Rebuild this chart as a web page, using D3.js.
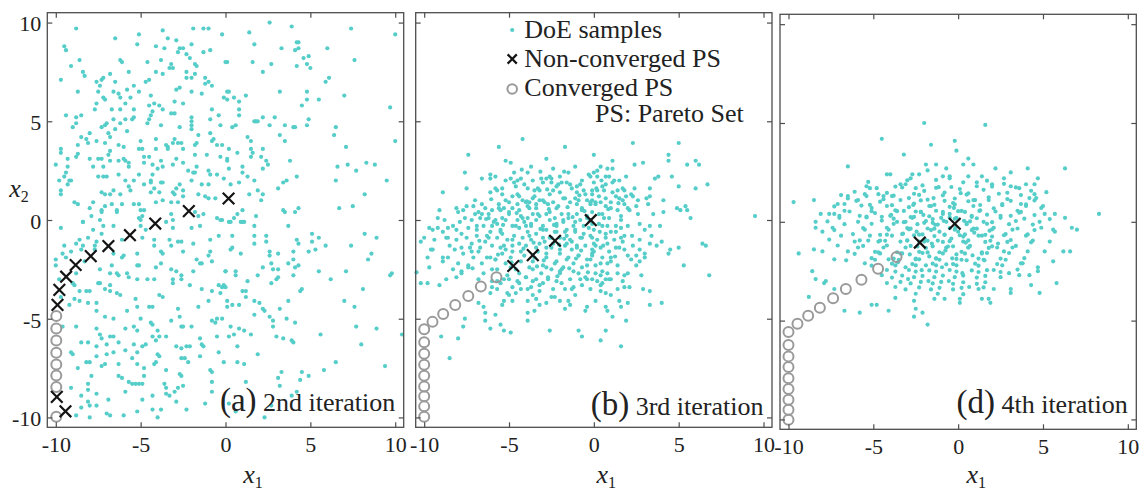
<!DOCTYPE html>
<html><head><meta charset="utf-8">
<script src="https://cdn.jsdelivr.net/npm/d3@7"></script>
<style>html,body{margin:0;padding:0;background:#fff;} svg{display:block;} text{font-family:"Liberation Serif","Times New Roman",serif;}</style>
</head><body><svg id="c" width="1146" height="493"></svg>
<script>
// ---------------- data ----------------
const tickValues = [-10, -5, 0, 5, 10];
const tickLabels = ["-10", "-5", "0", "5", "10"];
const panelTags = ["(a)", "(b)", "(d)"];
const panelTitles = ["2nd iteration", "3rd iteration", "4th iteration"];
const legendLabels = ["DoE samples", "Non-converged PS", "Converged PS"];
const legendNote = "PS: Pareto Set";

// DoE samples, flat [x1, x2, x1, x2, ...]
const doeA = [
-8.8,9.7,-5.1,9.4,-3.7,9.6,-1.9,9.7,-1.3,9.7,-1.0,9.7,-0.2,9.4,-6.5,9.2,-3.4,9.2,-2.9,9.1,-5.2,8.9,-4.1,8.8,-3.6,8.7,-2.7,8.7,-2.5,8.7,-2.0,8.9,-9.5,8.8,-9.4,8.6,-1.3,8.5,-0.9,8.6,-2.8,8.5,-2.3,8.4,-8.6,8.1,-6.2,8.1,-6.1,8.0,-4.6,8.0,-3.8,8.1,-2.1,8.2,-1.8,7.9,-1.7,7.8,0.0,8.0,-9.1,7.8,-3.2,7.9,-3.3,7.7,-3.1,7.7,-8.4,7.5,-8.3,7.3,-6.8,7.4,-5.7,7.5,-4.1,7.5,-3.7,7.4,-2.3,7.5,-2.3,7.2,-2.0,7.2,-1.8,7.4,-9.7,7.1,-7.6,7.0,-7.3,7.1,-7.2,7.2,-6.5,7.0,-4.7,7.0,-4.5,7.1,-1.2,7.2,-1.2,6.9,-1.0,7.0,-0.8,6.8,-7.4,6.8,-8.7,6.5,-7.5,6.5,-6.6,6.5,-6.3,6.4,-5.8,6.6,-5.4,6.8,-5.1,6.5,-2.9,6.6,-2.7,6.7,-2.0,6.5,-1.4,6.4,0.1,6.5,-7.2,6.2,-7.1,6.1,-6.2,6.2,-5.6,6.2,-4.4,6.3,-3.0,6.0,-2.5,5.9,-7.6,5.9,-5.9,5.9,-4.5,5.8,-4.2,5.9,-3.9,5.8,-0.1,6.2,-7.7,5.6,-6.7,5.6,-6.2,5.6,-5.4,5.6,-3.7,5.6,-3.2,5.4,-3.0,5.4,-0.8,5.6,-9.4,5.3,-8.8,5.2,-8.5,5.3,-4.3,5.5,-4.4,5.3,-4.5,5.1,-4.6,4.9,-8.8,4.9,-6.6,5.1,-5.9,5.1,-5.5,5.1,-5.4,5.2,-2.0,5.2,-0.4,5.3,-9.0,4.7,-7.1,4.8,-7.3,4.7,-7.0,4.9,-6.2,4.9,-3.8,4.8,-2.7,4.7,-2.0,5.0,-2.0,4.8,-2.0,4.6,-0.9,5.1,-0.3,4.8,-6.5,4.6,-5.8,4.5,-8.0,4.4,-6.9,4.4,-8.5,4.2,-8.2,4.1,-6.8,4.2,-4.1,4.1,-3.0,4.1,-3.1,3.9,-1.6,4.3,-0.9,4.4,-0.8,4.0,-0.7,4.1,-8.7,3.8,-8.1,3.9,-7.6,4.0,-7.1,3.9,-6.3,3.8,-6.0,3.7,-5.0,4.0,-3.5,3.8,-3.4,3.6,-2.8,3.9,-2.6,3.9,-1.7,3.9,-1.8,3.8,-0.5,3.8,-0.2,3.8,-9.7,3.6,-9.7,3.4,-6.8,3.5,-6.9,3.3,-5.1,3.6,-4.9,3.6,-4.1,3.6,-3.4,3.7,-2.5,3.6,-1.8,3.3,-1.1,3.3,-0.3,3.2,-10.0,2.8,-9.3,3.1,-8.8,3.2,-8.7,3.35,-8.0,3.1,-7.5,3.1,-7.3,3.1,-6.8,3.0,-6.3,3.0,-6.0,3.1,-5.9,3.0,-5.7,2.9,-4.8,3.2,-4.5,3.2,-4.8,2.9,-4.3,2.8,-3.8,3.0,-2.9,3.1,-3.1,2.8,-2.5,2.9,0.1,3.1,-9.3,2.7,-7.8,2.7,-7.2,2.7,-5.7,2.7,-4.0,2.6,-3.7,2.7,-2.2,2.5,-1.7,2.7,-1.0,2.5,-9.4,2.4,-9.5,2.2,-9.2,2.0,-9.1,2.0,-9.3,1.8,-9.8,2.0,-7.5,2.2,-7.2,2.2,-7.0,2.2,-6.3,2.3,-5.1,2.3,-4.3,2.3,-1.9,2.4,-1.8,2.4,-0.9,2.3,-0.5,2.3,-0.1,2.1,-5.9,2.0,-5.7,1.7,-5.4,2.0,-4.8,1.8,-4.4,2.0,-4.4,1.9,-4.2,1.6,-3.8,1.9,-3.7,1.9,-2.7,1.8,-2.0,2.0,-1.4,1.8,-1.0,1.8,-9.7,1.5,-9.7,1.3,-7.3,1.4,-7.1,1.3,-6.8,1.3,-6.6,1.5,-6.2,1.3,-5.6,1.5,-4.4,1.4,-3.9,1.4,-3.1,1.4,-3.0,1.3,-2.9,1.6,-2.5,1.5,-2.5,1.2,-1.6,1.3,-1.2,1.2,-1.0,1.1,-0.6,1.1,-8.9,0.9,-8.7,0.8,-7.1,0.7,-6.7,0.8,-6.1,0.8,-5.4,0.8,-5.1,0.8,-4.1,0.9,-3.7,1.0,-3.2,0.9,-2.8,0.9,-8.0,0.6,-7.8,0.9,-7.3,0.5,-7.3,0.4,-6.4,0.5,-6.4,0.4,-5.0,0.5,-4.8,0.5,-4.9,0.2,-5.1,0.1,-3.2,0.3,-1.8,0.4,-1.6,0.2,-1.3,0.3,-7.9,0.2,-8.4,-0.1,-7.4,0.0,-5.0,0.0,-3.1,0.0,-0.5,0.1,-0.3,0.0,
2.6,10.0,3.9,9.8,7.4,9.7,1.4,9.5,10.0,9.4,1.7,8.9,4.2,9.0,4.3,9.0,3.3,8.7,4.3,8.7,4.1,8.6,6.0,8.7,4.6,8.2,4.9,8.3,7.6,8.1,0.1,8.0,1.6,8.0,2.7,7.9,4.8,7.9,4.2,7.8,5.0,7.7,2.2,7.5,6.1,7.2,5.9,7.0,0.2,6.5,3.2,6.5,4.8,6.5,7.0,6.3,0.5,6.2,0.1,6.1,0.8,6.0,1.2,6.3,4.8,6.1,5.5,6.1,4.5,5.8,9.7,5.7,0.8,5.6,0.8,5.3,1.7,5.0,1.8,5.0,1.9,5.0,2.2,5.2,2.9,5.2,4.9,5.1,0.6,4.8,0.4,4.7,2.6,4.8,3.5,4.8,4.0,4.7,4.1,4.7,4.8,4.8,6.5,4.7,6.4,4.3,1.3,4.2,1.5,4.0,3.2,4.3,3.5,4.0,10.0,4.0,7.1,3.7,0.2,3.6,0.7,3.4,1.5,3.6,1.6,3.4,2.2,3.6,1.5,3.2,2.1,3.2,0.1,3.0,2.4,3.0,2.5,2.8,3.8,3.0,1.0,2.7,2.2,2.6,0.2,2.6,6.6,2.7,7.2,2.8,8.3,2.9,8.8,2.8,7.7,2.5,1.0,2.4,1.3,2.2,4.2,2.2,1.7,2.0,3.6,2.0,3.4,1.9,3.1,1.6,6.5,2.0,9.5,2.0,0.3,1.8,0.8,1.9,1.9,1.5,1.4,1.3,2.2,1.3,2.1,1.0,8.2,1.3,6.7,0.6,7.5,0.7,1.0,0.5,0.7,0.3,0.5,0.1,1.0,-0.1,1.8,0.2,3.4,0.5,3.5,0.4,4.1,0.4,4.3,0.6,0.2,-0.1,
-9.7,-0.4,-8.4,-0.1,-7.2,-0.3,-6.6,-0.3,-5.0,-0.3,-4.7,-0.5,-3.5,-0.1,-3.1,-0.4,-2.0,-0.4,-1.5,-0.3,-0.4,-0.8,-0.2,0.0,-7.8,-0.5,-7.3,-0.7,-8.1,-0.9,-8.6,-1.0,-8.8,-1.2,-7.6,-1.1,-9.5,-1.3,-8.4,-1.3,-7.7,-1.3,-6.1,-1.0,-4.9,-0.9,-4.2,-1.0,-3.3,-1.0,-2.8,-1.1,-2.6,-1.1,-1.9,-1.2,-0.9,-1.0,-9.6,-1.7,-9.1,-1.6,-8.5,-1.5,-7.7,-1.5,-6.6,-1.7,-5.2,-1.7,-4.2,-1.3,-3.8,-1.6,-3.7,-1.7,-3.2,-1.3,-2.5,-1.6,-0.9,-1.6,-1.0,-1.8,-10.0,-2.0,-9.4,-1.9,-8.3,-2.1,-7.4,-2.5,-6.7,-2.3,-6.1,-1.9,-6.0,-1.8,-5.2,-2.3,-5.1,-2.3,-4.1,-2.4,-3.8,-2.2,-3.2,-2.5,-2.9,-2.6,-2.6,-2.8,-1.9,-2.6,-1.7,-2.0,-1.5,-2.2,-1.4,-2.2,-0.8,-2.1,0.0,-2.6,-10.0,-2.3,-9.8,-3.0,-8.9,-3.3,-8.8,-2.7,-9.0,-3.2,-8.6,-3.6,-8.2,-3.6,-8.0,-3.6,-7.5,-3.2,-7.4,-3.2,-6.8,-3.3,-6.8,-2.7,-6.4,-2.7,-6.3,-2.8,-5.8,-2.7,-5.7,-2.9,-5.2,-3.0,-4.6,-3.0,-4.2,-3.0,-3.1,-3.0,-3.1,-3.2,-2.6,-3.0,-2.1,-3.3,-1.4,-3.5,-0.8,-3.6,-0.4,-3.3,-0.1,-3.3,-8.9,-4.0,-8.6,-4.1,-8.1,-4.2,-7.6,-4.2,-7.1,-3.5,-6.8,-3.6,-6.4,-3.7,-6.2,-3.8,-5.3,-4.0,-5.8,-4.6,-5.2,-4.4,-4.5,-4.4,-4.3,-4.4,-3.9,-3.8,-3.7,-3.9,-2.8,-4.5,-1.6,-4.4,-1.0,-4.1,-0.3,-3.7,-0.2,-3.4,-9.7,-3.9,-9.2,-4.3,-7.6,-4.6,-7.1,-4.9,-6.6,-5.0,-5.0,-5.0,-4.4,-5.2,-4.3,-5.3,-4.0,-5.6,-3.2,-5.1,-2.7,-4.9,-2.6,-5.4,-2.5,-5.4,-2.0,-5.4,-0.8,-5.1,-0.6,-5.2,-0.5,-5.0,-0.2,-5.0,-9.6,-5.4,-8.8,-5.4,-7.6,-5.5,-7.4,-5.8,-7.3,-6.0,-6.8,-5.9,-6.6,-5.9,-5.9,-5.5,-5.4,-5.4,-5.2,-5.6,-4.3,-5.9,-3.9,-5.9,-3.5,-5.9,-8.5,-6.2,-8.1,-6.2,-7.6,-6.4,-7.0,-6.3,-6.3,-6.2,-5.4,-6.3,-4.9,-6.4,-4.7,-6.3,-4.1,-6.1,-2.9,-6.4,-2.6,-6.5,-2.3,-6.4,-2.1,-6.4,-1.5,-6.0,-1.4,-6.3,-1.3,-6.4,-0.5,-5.9,-0.4,-6.7,-9.1,-6.7,-9.0,-6.8,-7.6,-6.9,-7.0,-6.8,-6.6,-6.7,-5.9,-6.6,-5.2,-6.7,-4.0,-6.8,-3.9,-6.9,-2.6,-7.0,-2.4,-7.0,-1.5,-6.9,-0.1,-7.2,-8.7,-7.5,-8.2,-7.2,-8.0,-7.2,-7.3,-7.4,-7.1,-7.3,-6.3,-7.3,-5.5,-7.0,-5.2,-7.3,-4.8,-7.5,-4.2,-7.3,-4.1,-7.2,-3.5,-7.6,-2.7,-7.8,-2.6,-7.9,-2.2,-7.2,-0.9,-7.6,-0.8,-7.7,-7.9,-7.9,-6.3,-7.9,-6.1,-8.0,-5.7,-8.2,-5.5,-8.3,-5.3,-8.3,-5.1,-8.3,-4.9,-8.3,-4.8,-7.9,-3.6,-8.3,-3.5,-8.5,-3.0,-8.7,-2.8,-8.5,-2.5,-8.4,-0.8,-8.2,-9.1,-8.5,-8.1,-8.3,-8.1,-8.6,-8.5,-8.9,-7.6,-8.8,-6.9,-9.1,-5.9,-8.7,-4.9,-9.1,-4.3,-8.9,-3.5,-8.8,-3.3,-8.9,-1.2,-9.3,-0.8,-8.7,-8.1,-9.2,-8.0,-9.4,-7.6,-9.4,-8.5,-9.5,-8.8,-9.9,-8.0,-10.0,-7.0,-9.8,-6.8,-9.9,-6.0,-9.9,-5.2,-9.7,-4.3,-9.6,-3.8,-9.6,-4.0,-10.0,-2.9,-9.2,-2.3,-9.6,
0.3,-0.1,0.9,-0.1,1.1,-0.1,1.7,-0.3,3.7,-0.3,0.4,-0.8,1.7,-0.8,2.4,-0.8,2.4,-1.1,1.7,-1.2,5.1,-0.7,5.5,-0.9,4.2,-1.0,4.3,-1.2,5.1,-1.1,4.9,-1.6,5.3,-1.5,5.9,-1.3,7.4,-1.3,8.2,-0.7,8.9,-0.9,0.3,-1.5,0.4,-1.4,0.9,-1.7,2.6,-1.6,2.6,-1.8,3.1,-1.7,4.0,-1.6,4.0,-2.0,8.6,-1.7,8.4,-2.0,0.0,-2.6,0.6,-2.6,0.6,-2.8,1.9,-2.8,2.2,-2.4,2.7,-2.2,2.8,-2.5,3.1,-2.5,3.0,-3.0,3.1,-2.9,2.7,-3.2,3.7,-2.2,4.3,-2.3,4.1,-2.4,4.0,-2.8,5.5,-2.6,6.2,-3.0,7.1,-2.6,9.7,-2.8,9.8,-2.7,1.3,-3.1,4.5,-3.5,4.4,-3.6,8.1,-3.5,1.0,-3.6,1.2,-3.6,1.2,-3.9,0.0,-3.4,1.7,-4.1,2.0,-4.2,0.1,-4.1,0.1,-4.4,0.4,-4.3,0.8,-4.3,2.2,-4.5,2.3,-4.6,3.2,-4.5,3.7,-4.1,2.6,-4.9,3.6,-5.0,7.0,-4.1,7.6,-4.4,1.7,-4.8,2.8,-5.1,2.8,-5.4,4.1,-5.2,0.3,-5.4,0.2,-5.9,0.8,-5.5,1.1,-5.6,1.5,-5.8,0.5,-5.8,3.0,-5.9,3.4,-6.0,3.9,-6.1,4.0,-6.2,5.6,-5.8,7.7,-5.4,8.9,-5.5,10.4,-5.8,0.7,-6.4,1.9,-6.8,8.0,-6.3,0.7,-7.2,1.1,-7.3,5.8,-7.6,6.5,-7.2,9.4,-7.4,3.3,-7.7,3.1,-8.0,4.5,-7.7,4.9,-7.9,4.4,-8.1,1.2,-8.2,3.2,-8.4,4.2,-8.7,3.9,-8.9,0.2,-9.3,0.6,-9.7,2.3,-10.0,2.7,-9.4
];

const doeB = [
-4.2,4.1,-5.6,3.7,-7.4,3.3,-1.7,3.7,-2.8,3.1,-5.2,3.0,-4.9,2.9,-3.7,2.7,-1.1,2.7,-7.6,2.4,-6.1,2.3,-5.8,2.2,-6.1,2.1,-6.6,2.1,-5.2,2.0,-4.9,2.1,-4.5,2.0,-4.3,2.1,-3.9,2.4,-3.1,2.1,-3.0,1.9,-2.8,2.1,-2.5,2.1,-2.0,2.2,-1.6,1.9,-1.4,1.8,-2.5,1.9,-2.2,1.7,-2.1,1.8,-3.3,1.6,-3.2,1.5,-3.5,1.5,-3.9,1.6,-4.7,1.9,-4.6,1.7,-5.8,1.6,-6.1,1.4,-5.7,1.5,-5.4,1.3,-7.5,1.6,-8.9,1.4,-1.0,1.4,-0.8,1.8,-0.3,2.3,-0.2,2.2,-0.6,1.5,-0.1,1.5,-1.0,1.7,
-6.6,0.8,-5.6,0.8,-5.0,0.9,-4.8,1.2,-4.4,1.2,-4.2,1.0,-4.0,0.9,-3.8,0.9,-3.6,1.1,-3.4,0.8,-3.4,0.6,-3.0,1.0,-2.7,0.8,-2.4,0.9,-2.2,0.6,-1.7,1.1,-1.4,0.9,-1.1,1.1,-0.9,1.0,-0.4,1.0,-0.2,0.8,-0.7,0.6,-7.1,0.7,-6.8,0.4,-7.7,0.5,-8.1,0.6,-9.1,0.5,-5.3,0.6,-4.8,0.6,-4.5,0.8,-3.8,0.6,-2.6,1.3,-2.0,1.4,-5.5,0.5,-6.0,0.5,-6.2,0.3,-6.4,0.6,
-9.2,-0.4,-8.6,-0.4,-8.3,-0.3,-7.9,-0.1,-7.6,0.1,-7.2,0.0,-7.0,0.3,-6.7,0.1,-6.5,-0.3,-6.2,0.1,-6.0,-0.3,-5.8,0.0,-5.7,-0.2,-5.4,0.1,-5.2,0.0,-5.0,0.3,-4.8,-0.3,-4.5,0.0,-4.3,0.2,-4.1,-0.1,-3.9,0.1,-3.7,-0.3,-3.6,0.3,-3.4,0.0,-3.2,0.2,-3.0,-0.3,-2.8,0.3,-2.6,0.0,-2.3,0.1,-2.2,-0.3,-1.9,0.3,-1.8,-0.1,-1.5,0.1,-1.2,-0.3,-1.0,0.3,-0.8,0.0,-0.6,-0.3,-0.4,0.1,-0.1,-0.2,-5.5,-0.5,-4.4,-0.4,-2.8,-0.5,-1.6,-0.5,-7.4,-0.4,-6.9,-0.3,-8.8,0.0,-9.5,-0.5,-8.1,-0.5,
-10.2,-1.1,-9.6,-1.5,-9.4,-1.0,-8.7,-0.9,-8.5,-1.3,-8.1,-1.0,-7.8,-1.4,-7.5,-0.9,-7.2,-1.2,-6.9,-0.8,-6.7,-1.4,-6.4,-1.1,-6.2,-0.9,-6.0,-1.3,-5.7,-0.9,-5.5,-1.4,-5.4,-0.7,-5.1,-1.0,-4.8,-1.3,-4.7,-0.8,-4.4,-1.2,-4.2,-0.9,-4.0,-1.3,-3.7,-1.0,-3.4,-0.7,-3.2,-1.2,-3.0,-0.9,-2.8,-1.4,-2.6,-0.9,-2.4,-1.2,-2.2,-0.6,-2.0,-0.9,-1.7,-1.3,-1.6,-0.8,-1.3,-1.1,-1.1,-0.6,-1.0,-1.4,-0.7,-0.9,-0.5,-1.3,-0.2,-0.8,0.0,-1.2,-8.9,-0.6,-7.8,-0.7,-6.1,-0.6,-3.9,-0.6,-2.5,-1.4,-1.3,-1.5,-5.2,-1.5,-7.3,-1.4,-10.0,-0.9,
-9.8,-1.9,-9.7,-2.4,-8.9,-2.1,-8.6,-1.9,-8.0,-2.2,-7.7,-1.7,-7.4,-2.4,-7.1,-1.9,-6.8,-1.6,-6.6,-2.2,-6.3,-1.9,-6.0,-2.5,-5.8,-2.0,-5.4,-1.7,-5.2,-2.2,-4.9,-1.9,-4.6,-2.5,-4.3,-2.1,-4.1,-1.8,-3.8,-2.4,-3.5,-1.9,-3.3,-1.6,-3.0,-2.3,-2.8,-1.9,-2.5,-2.5,-2.2,-2.1,-2.0,-1.7,-1.8,-2.4,-1.5,-1.9,-1.2,-2.2,-0.9,-1.8,-0.7,-2.4,-0.4,-2.0,-0.1,-1.7,-8.3,-2.5,-4.8,-1.6,-1.9,-2.5,-3.6,-2.5,-5.7,-2.5,
-10.45,-2.65,-10.2,-3.2,-9.8,-3.2,-9.1,-3.3,-8.7,-3.0,-8.1,-2.9,-7.8,-2.7,-6.1,-3.7,-5.7,-3.5,-5.5,-3.2,-5.3,-3.0,-5.0,-3.0,-4.8,-3.4,-4.5,-3.1,-4.3,-3.5,-4.0,-2.9,-3.7,-3.4,-3.4,-3.0,-3.2,-3.6,-3.0,-3.2,-2.7,-2.9,-2.4,-3.5,-2.2,-3.1,-2.0,-2.7,-1.7,-3.5,-1.4,-3.0,-1.2,-3.4,-0.9,-2.7,-0.7,-3.3,-0.4,-3.0,-0.2,-3.5,-3.6,-3.1,-5.1,-3.7,-4.4,-2.7,-6.0,-3.1,-2.5,-3.9,-1.1,-3.8,
-6.8,-4.2,-6.5,-4.4,-6.4,-4.7,-5.8,-4.8,-5.4,-4.3,-5.0,-3.8,-4.8,-4.1,-5.5,-5.3,-4.9,-5.7,-5.3,-5.6,-6.1,-5.5,-6.4,-5.1,-7.6,-5.0,-7.7,-5.4,-8.0,-6.0,-9.0,-5.9,-8.5,-7.0,-3.9,-4.7,-3.5,-4.6,-3.9,-5.1,-3.9,-4.1,-3.2,-4.3,-2.6,-5.6,-2.8,-4.2,-2.0,-4.1,-1.7,-4.5,-1.4,-4.3,-0.9,-5.6,-0.7,-5.9,-0.5,-4.6,-0.4,-4.4,-3.6,-3.8,
-5.9,-0.1,-5.6,0.6,-5.3,-1.3,-5.0,0.4,-4.9,-2.4,-4.6,-0.3,-4.5,1.3,-4.3,-1.6,-4.2,0.1,-4.0,-2.9,-3.9,0.7,-3.8,-0.8,-3.6,-2.1,-3.5,1.2,-3.4,-1.4,-3.3,0.3,-3.1,-2.7,-3.0,-0.5,-2.9,0.9,-2.8,-1.7,-2.7,-3.0,-2.6,0.4,-2.5,-0.9,-2.4,1.5,-2.3,-2.2,-2.2,-0.2,-2.1,0.7,-2.0,-1.5,-1.9,-3.2,-1.8,1.1,-1.7,-0.6,-1.6,-2.0,-1.5,0.3,-1.4,-1.0,-1.3,1.6,-1.2,-2.6,-1.1,-0.1,-1.0,0.8,-0.9,-1.8,-0.8,-3.0,-0.7,0.5,-0.6,-0.7,-0.5,1.3,-0.4,-2.3,-0.3,-0.4,-0.2,0.9,-0.1,-1.5,-5.8,-2.0,-5.5,-0.6,-5.2,1.0,-4.8,-1.0,-4.4,-3.2,-4.1,1.8,-3.7,-0.2,-3.2,-3.3,-2.9,-1.1,-2.6,2.2,-2.3,-0.6,-1.9,1.9,-1.6,-1.2,-1.3,-3.5,-1.0,-1.3,-0.7,2.0,-0.5,-2.9,-6.3,-0.8,-6.6,0.3,-6.9,-0.5,-7.2,-1.6,-7.5,0.7,-6.1,-1.9,-6.5,-2.7,-7.0,1.0,-5.7,-3.1,-5.4,1.6,-5.1,-2.8,-4.7,2.4,-4.4,0.5,-4.0,-0.3,-3.6,2.0,-3.2,1.0,-2.8,-2.4,-2.4,2.6,-2.0,-2.6,-1.8,0.0,-1.5,2.4,-1.1,-0.5,-0.8,-0.9,-0.4,0.2,-0.2,-2.0,-3.9,-3.5,-4.6,-3.7,-3.4,-4.0,-2.3,-3.9,-1.5,-4.1,-6.0,-3.4,-5.3,-4.1,-8.2,-1.5,-8.6,-0.9,-8.9,-1.9,-9.2,0.1,-9.7,-0.4,-7.8,-2.6,-8.0,0.4,-7.4,-2.3,-6.8,-3.0,-9.5,-1.5,
-3.15,-0.45,-2.65,0.55,-2.05,-1.25,-1.55,0.65,-1.05,-1.95,-0.55,0.45,-4.15,-1.45,-3.55,-1.15,-2.95,-2.05,-2.35,-0.25,-1.75,-0.95,-1.25,0.15,-0.75,-1.55,-0.25,-0.05,-4.55,0.35,-3.95,0.95,-3.35,-2.35,-2.75,1.55,-2.15,-2.85,-1.45,-2.45,-0.85,1.25,-0.35,-2.65,-5.35,-0.25,-4.85,-2.15,-5.65,-1.75,-6.35,0.05,-6.75,-1.05,-7.15,-2.45,-6.05,1.05,-4.25,2.55,-3.15,2.45,-1.75,2.45,0.35,-0.6,0.85,0.55,1.25,-1.85,0.55,-1.3,0.15,1.6,1.45,0.85,2.25,-0.8,0.45,2.0,
2.3,3.9,5.0,3.9,0.0,3.3,4.4,3.3,4.4,3.0,1.1,3.0,2.4,2.8,2.9,2.9,5.5,2.8,6.0,3.0,6.2,2.8,0.4,2.7,1.1,2.6,0.0,2.4,0.2,2.2,0.7,2.2,0.9,2.2,1.2,2.0,1.5,2.0,3.6,2.1,3.8,2.2,4.6,2.2,0.0,1.9,0.5,1.7,0.7,1.8,0.2,1.5,1.1,1.4,1.4,1.5,1.7,1.6,1.8,1.5,3.3,1.6,5.0,1.7,6.0,1.6,6.7,1.8,-0.1,1.3,0.7,1.1,1.3,1.2,1.7,1.0,1.9,1.2,2.2,1.3,2.3,1.2,2.6,1.0,3.1,1.1,3.3,1.2,4.1,1.0,0.1,0.8,0.4,0.9,0.7,0.7,1.0,0.9,1.4,0.5,1.8,0.8,2.0,0.6,2.1,0.5,2.5,0.7,2.6,0.3,3.2,0.8,3.5,0.3,4.1,0.4,4.9,0.6,5.1,0.5,5.4,0.7,5.5,0.5,5.7,0.1,-0.1,0.4,0.3,0.3,0.6,0.1,0.9,0.1,1.6,0.0,0.5,-0.3,0.0,-0.5,2.7,-0.2,3.0,-0.5,3.3,-0.3,3.9,-0.3,1.6,-0.4,1.0,-0.6,1.3,-0.6,1.8,-0.8,1.6,-0.9,0.7,-0.9,-0.1,-0.9,2.7,-1.0,3.4,-0.8,3.3,-1.2,3.7,-1.3,4.0,-1.1,2.3,-1.3,0.8,-1.2,0.1,-1.3,0.4,-1.4,1.3,-1.4,1.5,-1.4,1.8,-1.5,2.7,-1.5,3.0,-1.7,5.0,-1.4,4.4,-1.7,4.5,-1.5,6.4,-1.2,6.6,-1.3,-0.1,-1.8,0.5,-1.9,1.0,-1.9,2.0,-1.8,2.5,-1.8,2.7,-2.1,3.0,-1.9,2.5,-2.3,0.8,-2.2,0.1,-2.3,5.3,-2.3,0.1,-2.7,0.4,-2.8,0.8,-2.7,1.4,-2.7,2.0,-2.7,2.8,-2.8,6.8,-2.8,-0.1,-3.0,0.2,-3.1,0.7,-3.0,1.0,-3.0,1.7,-3.1,0.5,-3.2,1.8,-3.4,2.1,-3.4,1.4,-3.5,2.9,-3.5,3.3,-3.6,0.4,-3.6,0.7,-3.7,1.0,-3.8,0.1,-4.1,1.5,-4.1,2.0,-4.2,1.6,-4.4,3.3,-4.3,4.0,-4.2,0.7,-4.4,0.8,-4.6,1.1,-4.9,1.9,-5.1,0.7,-5.6,0.4,-6.1,1.6,-6.4,9.5,0.2,-0.1,1.0,-0.2,0.0,
0.3,1.2,0.5,0.3,0.8,-0.3,1.0,0.6,1.2,-1.0,0.2,-1.0,0.4,-2.2,0.9,-1.6,1.4,-2.3,0.1,0.9,0.6,1.5,1.1,1.9,1.6,0.2,0.3,-0.2,0.7,-0.7,1.3,-0.3,0.0,-1.6,0.5,-2.6,1.0,-2.1,1.7,-1.1,2.0,-0.3,2.2,-2.0,0.2,2.5,0.8,2.6,1.9,2.2,2.4,1.6,1.5,1.1,0.4,-3.3,0.9,-3.0,1.8,-2.8
];

const doeD = [
-2.0,5.0,1.6,4.9,-4.5,4.2,-0.2,4.1,-1.6,3.9,-0.1,3.6,-3.2,3.4,-6.5,2.8,0.6,3.2,0.9,2.9,6.3,2.7,4.1,2.7,-9.7,1.0,-8.5,1.1,-9.4,-1.6,-8.4,-2.9,-8.6,-2.5,-8.8,-3.8,-6.7,-4.5,-5.8,-4.6,-5.1,-4.2,-4.8,-4.2,-4.1,-4.5,-2.6,-4.8,-1.8,-5.2,-2.5,-4.4,-2.1,-4.6,8.3,0.4,7.0,-0.4,6.7,-0.3,6.3,0.2,6.6,-1.5,6.2,-1.5,5.8,-3.1,5.6,-2.0,4.8,-3.6,4.3,-3.2,3.1,-3.6,1.8,-3.9,1.9,-4.1,1.4,-3.9,0.1,-3.9,-0.8,-3.9,-8.1,0.4,-7.6,0.4,-7.3,0.4,-8.4,0.0,-8.4,-0.3,-8.0,-0.5,-8.5,-1.4,-8.0,-1.5,-7.3,-1.9,-7.8,-3.0,-7.9,-3.1,-7.3,-3.4,5.1,0.4,5.6,-0.4,5.7,-0.5,5.4,-1.0,5.1,-1.5,4.7,-2.5,4.7,-2.3,4.2,-2.7,3.6,-2.7,3.1,-3.4,5.2,1.5,4.5,1.4,5.0,0.8,5.7,0.4,3.7,0.9,4.2,1.2,3.7,0.5,4.0,1.9,4.5,1.9,4.7,2.2,3.1,1.8,3.1,2.5,2.7,2.2,2.2,2.7,1.4,2.3,2.0,1.9,1.1,2.0,-1.3,2.9,-1.9,2.9,-0.7,2.7,-0.9,2.3,-0.5,2.3,0.3,2.9,-4.0,2.4,-4.2,2.4,-3.4,1.9,-3.1,1.9,-2.8,2.2,-2.3,2.4,-2.5,1.7,-5.2,1.7,-5.4,1.8,-5.4,1.3,-4.4,1.3,-4.7,1.4,-6.5,1.3,-6.7,0.9,-5.9,1.1,
-5.3,2.02,-3.7,1.78,-3.0,2.1,-2.1,1.84,-1.3,2.12,-0.4,1.76,0.3,2.0,1.1,1.8,1.7,2.08,2.7,1.92,3.4,1.74,
-6.1,1.52,-4.8,1.7,-4.2,1.46,-3.3,1.74,-2.6,1.42,-2.0,1.56,-1.3,1.72,-0.8,1.48,0.1,1.66,0.6,1.44,1.5,1.62,2.0,1.78,2.9,1.47,3.6,1.7,4.3,1.57,
-6.5,1.18,-5.5,1.4,-4.4,1.14,-3.8,1.32,-2.9,1.2,-2.3,1.36,-1.8,1.12,-0.9,1.34,-0.2,1.18,0.5,1.38,1.0,1.1,1.8,1.24,2.4,1.42,2.9,1.15,3.7,1.35,4.6,1.2,
-7.1,0.9,-6.0,1.06,-5.2,0.86,-4.6,1.02,-3.9,0.84,-3.4,1.1,-2.6,0.92,-2.2,1.08,-1.4,0.86,-0.8,1.06,-0.2,0.88,0.6,1.04,1.3,0.85,1.8,1.1,2.6,0.9,3.1,1.06,4.0,0.88,4.5,1.08,
-7.3,0.78,-6.7,0.56,-5.7,0.82,-5.1,0.54,-4.2,0.8,-3.7,0.58,-2.9,0.74,-2.5,0.52,-1.7,0.8,-1.3,0.56,-0.5,0.76,0.0,0.54,0.9,0.8,1.3,0.58,2.1,0.68,2.6,0.84,3.5,0.56,4.0,0.8,4.9,0.7,
-7.0,0.3,-6.4,0.52,-5.4,0.26,-4.9,0.44,-4.0,0.3,-3.6,0.54,-2.8,0.24,-2.2,0.5,-1.7,0.28,-0.9,0.4,-0.5,0.22,0.4,0.5,0.8,0.3,1.7,0.36,2.2,0.52,3.1,0.3,3.6,0.46,4.5,0.34,
-7.7,0.02,-7.0,0.2,-5.9,0.0,-5.4,0.22,-4.5,0.06,-3.8,0.16,-3.2,-0.02,-2.7,0.2,-1.9,0.04,-1.5,0.14,-0.7,0.0,-0.1,0.2,0.7,0.02,1.1,0.18,2.0,-0.02,2.5,0.2,3.4,0.04,3.9,0.16,4.8,0.0,5.4,0.14,
-7.4,-0.3,-6.7,-0.12,-5.6,-0.32,-5.1,-0.1,-4.2,-0.3,-3.8,-0.1,-3.0,-0.32,-2.4,-0.12,-1.8,-0.34,-1.2,-0.14,-0.5,-0.32,0.5,-0.12,0.9,-0.34,1.7,-0.1,2.1,-0.3,3.0,-0.12,3.5,-0.34,4.4,-0.14,4.9,-0.3,
-7.3,-0.42,-6.2,-0.62,-5.5,-0.4,-4.6,-0.66,-4.1,-0.4,-3.3,-0.62,-2.9,-0.38,-2.1,-0.64,-1.6,-0.42,-0.8,-0.66,-0.2,-0.4,0.4,-0.64,0.8,-0.42,1.6,-0.66,2.0,-0.38,2.8,-0.62,3.2,-0.4,4.1,-0.64,4.5,-0.42,
-6.9,-0.7,-5.8,-0.94,-5.2,-0.7,-4.3,-0.96,-3.9,-0.7,-3.0,-0.94,-2.6,-0.68,-1.8,-0.96,-1.4,-0.72,-0.5,-0.98,0.1,-0.68,0.6,-0.94,1.4,-0.7,1.9,-0.96,2.7,-0.68,3.1,-0.92,4.0,-0.7,4.4,-0.95,
-7.1,-1.2,-6.1,-1.0,-5.6,-1.22,-4.7,-1.0,-4.2,-1.2,-3.4,-1.0,-2.8,-1.22,-2.0,-1.0,-1.5,-1.24,-0.9,-1.02,-0.3,-1.24,0.3,-1.0,0.7,-1.22,1.6,-1.02,2.0,-1.24,2.9,-1.02,3.4,-1.22,4.3,-1.04,
-6.5,-1.5,-5.9,-1.3,-4.9,-1.52,-4.4,-1.3,-3.6,-1.54,-3.1,-1.3,-2.3,-1.52,-1.9,-1.32,-1.1,-1.54,-0.7,-1.3,0.2,-1.52,0.6,-1.3,1.4,-1.54,1.8,-1.32,2.7,-1.5,3.2,-1.3,4.1,-1.5,
-6.1,-1.62,-5.1,-1.84,-4.6,-1.6,-3.8,-1.86,-3.3,-1.6,-2.5,-1.86,-2.1,-1.58,-1.3,-1.86,-0.9,-1.6,-0.1,-1.88,0.4,-1.6,1.2,-1.86,1.7,-1.58,2.5,-1.86,3.0,-1.58,3.9,-1.84,
-5.5,-2.1,-4.9,-1.92,-3.9,-2.12,-3.5,-1.92,-2.7,-2.14,-2.3,-1.9,-1.5,-2.12,-1.1,-1.92,-0.3,-2.14,0.2,-1.92,1.0,-2.12,1.5,-1.92,2.3,-2.14,2.8,-1.92,3.7,-2.1,
-5.1,-2.22,-4.2,-2.44,-3.7,-2.2,-2.9,-2.44,-2.5,-2.2,-1.7,-2.46,-1.3,-2.2,-0.5,-2.44,-0.1,-2.2,0.8,-2.46,1.2,-2.22,2.1,-2.44,2.6,-2.2,3.5,-2.42,
-4.5,-2.7,-3.7,-2.52,-3.3,-2.72,-2.5,-2.52,-2.1,-2.74,-1.3,-2.52,-0.9,-2.72,-0.1,-2.52,0.3,-2.72,1.2,-2.54,1.6,-2.74,2.5,-2.54,
-3.9,-2.82,-3.4,-3.04,-2.6,-2.8,-2.2,-3.04,-1.4,-2.8,-1.0,-3.04,-0.2,-2.8,0.3,-3.06,1.1,-2.82,1.6,-3.06,2.5,-2.8,
-3.7,-3.3,-2.8,-3.12,-2.3,-3.32,-1.5,-3.12,-1.1,-3.34,-0.3,-3.14,0.2,-3.34,1.1,-3.14,1.5,-3.32,
-3.1,-3.42,-2.5,-3.64,-1.6,-3.42,-1.2,-3.64,-0.3,-3.42,0.3,-3.66,1.2,-3.4,
-3.2,0.55,-2.6,0.25,-2.0,-0.05,-1.4,-0.35,-0.8,-0.65,-0.2,0.15,0.5,-0.05,1.1,-0.35,-3.0,-0.95,-2.4,-1.25,-1.8,-1.55,-1.2,-0.95,-0.6,-1.25,0.0,-0.5,0.6,-1.3,1.2,-0.7,-3.4,-1.6,-2.8,-0.35,-2.2,0.5,-1.6,0.8,-1.0,0.2,-0.4,-0.85,0.2,0.55,0.8,0.25,1.4,-1.6,-2.5,-1.9,-1.9,-2.2,-1.3,-1.85,-0.7,-2.15,-0.1,-1.65,0.5,-1.95,-3.1,-2.3,-2.3,-0.65,-1.5,-0.05,-0.9,0.5,-0.3,0.95,0.3,-0.75,0.9,1.1,1.5,0.0,2.0,-0.75,2.5,0.3,-3.6,0.0,-4.2,-0.65,-4.5,0.25,-3.9,1.3,-0.5,2.2,0.6,2.3,-1.8,2.6,-2.7,2.4,1.7,-2.45,2.3,-1.3,-4.7,-1.55,-5.3,-0.95,-5.8,0.3,-6.6,-1.95,-7.6,-0.9,-6.9,1.35,-4.2,-3.1,-3.7,-3.85,-2.6,-4.0,-1.4,-3.9,0.1,-4.1,2.1,-3.4,3.0,-2.6,3.8,-2.1,
-2.45,-0.5,-1.95,-0.9,-1.35,-0.15,-0.75,-1.45,-0.15,-0.3,0.45,-1.05,-2.85,-1.65,-2.15,-2.45,-1.55,-1.1,-0.95,-2.3,-0.35,-1.85,0.25,-2.6,0.85,-1.7,-3.25,-0.6,-2.65,0.85,-2.05,0.35,-1.45,1.2,-0.85,0.05,-0.25,0.7,0.35,0.05,0.95,-0.55,1.55,-1.95,-3.55,-2.05,-2.95,-2.9,-1.75,-3.0,-0.55,-3.0,0.65,-3.3,-4.1,-1.9,-4.6,-0.95,-5.1,0.7,-3.95,0.35,-1.15,1.75,0.15,1.45,1.25,0.55,1.85,-0.45,2.35,-1.1,-1.7,-1.75,-1.1,-0.5,-0.5,0.4,-2.3,-1.0,-3.1,0.0
];

// Non-converged Pareto set (crosses)
const ncAx = [0.18, -2.16, -4.14, -5.63, -6.9, -7.94, -8.83, -9.39, -9.79, -9.9, -9.94, -9.43];
const ncAy = [1.09, 0.45, -0.18, -0.77, -1.32, -1.83, -2.28, -2.87, -3.54, -4.3, -8.96, -9.69];
const ncBx = [-0.18, -2.29, -3.6, -4.75];
const ncBy = [-0.01, -1.05, -1.78, -2.33];
const ncDx = [-2.26, -0.2];
const ncDy = [-1.05, -0.1];

// Converged Pareto set (circles)
const cvAx = [-9.97, -9.97, -9.97, -9.97, -9.97, -9.97, -9.97, -9.97];
const cvAy = [-4.86, -5.5, -6.1, -6.72, -7.32, -7.88, -8.46, -9.96];
const cvBx = [-10, -10, -10, -10, -10, -10, -10, -10, -10, -9.51, -8.88, -8.17, -7.4, -6.66, -5.74];
const cvBy = [-9.97, -9.44, -8.93, -8.43, -7.89, -7.33, -6.78, -6.19, -5.53, -5.16, -4.76, -4.3, -3.85, -3.37, -2.9];
const cvDx = [-10, -10, -10, -10, -10, -10, -10, -10, -10, -9.47, -8.84, -8.15, -7.37, -6.62, -5.7, -4.72, -3.63];
const cvDy = [-10.02, -9.51, -9.0, -8.46, -7.92, -7.35, -6.81, -6.24, -5.58, -5.16, -4.75, -4.35, -3.87, -3.4, -2.93, -2.37, -1.78];

// ---------------- drawing ----------------
const FONT = "Liberation Serif";
const DOT = "#55cdc8", CROSS = "#141414", CIRC = "#9a9a9a", FRAME = "#4d4d4d", TXT = "#222";
const pairs = a => { const r = []; for (let i = 0; i < a.length; i += 2) r.push([a[i], a[i + 1]]); return r; };
const zip = (xs, ys) => xs.map((x, i) => [x, ys[i]]);

const panels = [
  { box: {l: 47.3, r: 403.7, t: 12.7, b: 427.3}, doe: pairs(doeA), nc: zip(ncAx, ncAy), cv: zip(cvAx, cvAy), yLabels: true, xlab: 243.3, titleBase: 410.6 },
  { box: {l: 415.7, r: 772.0, t: 12.7, b: 427.3}, doe: pairs(doeB), nc: zip(ncBx, ncBy), cv: zip(cvBx, cvBy), yLabels: false, xlab: 596.5, titleBase: 414.5, legend: true },
  { box: {l: 780.0, r: 1136.3, t: 14.3, b: 429.3}, doe: pairs(doeD), nc: zip(ncDx, ncDy), cv: zip(cvDx, cvDy), yLabels: false, xlab: 966.5, titleBase: 413.3 }
];

const svg = d3.select("#c");
svg.append("rect").attr("width", 1146).attr("height", 493).attr("fill", "#fff");

const crossPath = h => `M${-h},${-h}L${h},${h}M${-h},${h}L${h},${-h}`;

panels.forEach((p, i) => {
  const x = d3.scaleLinear().domain([-10.5, 10.5]).range([p.box.l, p.box.r]);
  const y = d3.scaleLinear().domain([-10.5, 10.5]).range([p.box.b, p.box.t]);
  const g = svg.append("g");

  g.append("g").selectAll("circle").data(p.doe).join("circle")
    .attr("cx", d => x(d[0])).attr("cy", d => y(d[1])).attr("r", 2.1).attr("fill", DOT);
  g.append("g").selectAll("circle").data(p.cv).join("circle")
    .attr("cx", d => x(d[0])).attr("cy", d => y(d[1])).attr("r", 5)
    .attr("fill", "none").attr("stroke", CIRC).attr("stroke-width", 2);
  g.append("g").selectAll("path").data(p.nc).join("path")
    .attr("transform", d => `translate(${x(d[0])},${y(d[1])})`)
    .attr("d", crossPath(5.8)).attr("stroke", CROSS).attr("stroke-width", 2.2).attr("fill", "none");

  const fmt = (d) => tickLabels[tickValues.indexOf(d)];
  const styleAxis = (a, showText) => {
    a.attr("font-family", FONT).attr("font-size", 22);
    a.select(".domain").remove();
    a.selectAll(".tick line").attr("stroke", FRAME).attr("stroke-width", 1.2);
    a.selectAll(".tick text").attr("fill", TXT);
    if (!showText) a.selectAll(".tick text").remove();
  };
  const ab = g.append("g").attr("transform", `translate(0,${p.box.b})`)
    .call(d3.axisBottom(x).tickValues(tickValues).tickFormat(fmt).tickSizeInner(-5).tickSizeOuter(0).tickPadding(9.5));
  styleAxis(ab, true);
  const at = g.append("g").attr("transform", `translate(0,${p.box.t})`)
    .call(d3.axisTop(x).tickValues(tickValues).tickSizeInner(-5).tickSizeOuter(0));
  styleAxis(at, false);
  const al = g.append("g").attr("transform", `translate(${p.box.l},0)`)
    .call(d3.axisLeft(y).tickValues(tickValues).tickFormat(fmt).tickSizeInner(-5).tickSizeOuter(0).tickPadding(6));
  styleAxis(al, p.yLabels);
  al.selectAll(".tick text").attr("dy", "0.38em");
  const ar = g.append("g").attr("transform", `translate(${p.box.r},0)`)
    .call(d3.axisRight(y).tickValues(tickValues).tickSizeInner(-5).tickSizeOuter(0));
  styleAxis(ar, false);

  g.append("rect").attr("x", p.box.l).attr("y", p.box.t)
    .attr("width", p.box.r - p.box.l).attr("height", p.box.b - p.box.t)
    .attr("fill", "none").attr("stroke", FRAME).attr("stroke-width", 1.3);

  const t = g.append("text").attr("x", p.box.r - 8.5).attr("y", p.titleBase)
    .attr("text-anchor", "end").attr("fill", TXT).attr("font-family", FONT);
  t.append("tspan").attr("font-size", 33).text(panelTags[i]);
  t.append("tspan").attr("font-size", 26).text("\u00a0" + panelTitles[i]);

  const xl = g.append("text").attr("x", p.xlab).attr("y", 483).attr("fill", TXT).attr("font-family", FONT);
  xl.append("tspan").attr("font-size", 26).attr("font-style", "italic").text("x");
  xl.append("tspan").attr("font-size", 16).attr("dy", 5).text("1");

  if (p.yLabels) {
    const yl = g.append("text").attr("x", 9.3).attr("y", 197).attr("fill", TXT).attr("font-family", FONT);
    yl.append("tspan").attr("font-size", 26).attr("font-style", "italic").text("x");
    yl.append("tspan").attr("font-size", 16).attr("dy", 5).text("2");
  }

  if (p.legend) {
    const lg = g.append("g");
    const mx = 512.2, rows = [30, 59, 89], textX = 524.3, bases = [38.3, 66.8, 95.8];
    lg.append("circle").attr("cx", mx).attr("cy", rows[0]).attr("r", 2.1).attr("fill", DOT);
    lg.append("path").attr("transform", `translate(${mx},${rows[1]})`).attr("d", crossPath(4.6))
      .attr("stroke", CROSS).attr("stroke-width", 2.2).attr("fill", "none");
    lg.append("circle").attr("cx", mx).attr("cy", rows[2]).attr("r", 4.8)
      .attr("fill", "none").attr("stroke", CIRC).attr("stroke-width", 2);
    legendLabels.forEach((s, k) => {
      lg.append("text").attr("x", textX).attr("y", bases[k]).attr("fill", TXT)
        .attr("font-family", FONT).attr("font-size", 26).text(s);
    });
    lg.append("text").attr("x", 595).attr("y", 121.8).attr("fill", TXT)
      .attr("font-family", FONT).attr("font-size", 26).text(legendNote);
  }
});
</script>
</body></html>
